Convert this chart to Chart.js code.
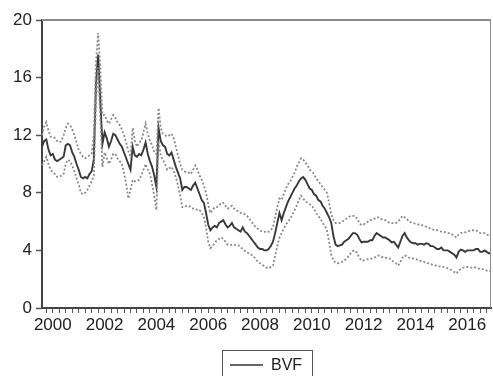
<!DOCTYPE html>
<html>
<head>
<meta charset="utf-8">
<script src="https://cdn.jsdelivr.net/npm/chart.js@4.4.0/dist/chart.umd.min.js"></script>
<style>
  html, body { margin: 0; padding: 0; background: #fff; }
  canvas { display: block; }
</style>
</head>
<body>
<canvas id="myChart" width="493" height="376"></canvas>
<script>
// monthly series 1999M08 - 2016M12
const startYear = 1999, startMonth = 8, endYear = 2016, endMonth = 12;

const bvf = [
  11.2, 11.6, 11.7, 11.0, 10.6,
  10.7, 10.3, 10.2, 10.3, 10.4, 10.5, 11.3, 11.4, 11.3, 10.8, 10.5, 10.0,
  9.6, 9.1, 9.0, 9.1, 9.0, 9.3, 9.5, 10.3, 15.5, 17.6, 14.4, 11.4,
  12.2, 11.8, 11.2, 11.6, 12.1, 12.0, 11.7, 11.4, 11.2, 10.8, 10.4, 10.0,
  9.6, 11.2, 10.6, 10.5, 10.7, 10.6, 11.0, 11.5, 10.7, 10.2, 9.8, 9.2,
  8.4, 12.5, 11.6, 11.3, 11.2, 10.7, 10.6, 10.8, 10.3, 9.8, 9.4, 9.0,
  8.2, 8.4, 8.4, 8.3, 8.2, 8.5, 8.7, 8.3, 7.9, 7.5, 7.3, 6.6,
  5.8, 5.4, 5.6, 5.7, 5.6, 5.9, 6.0, 6.1, 5.8, 5.6, 5.7, 5.9,
  5.6, 5.5, 5.4, 5.3, 5.6, 5.3, 5.2, 5.0, 4.8, 4.6, 4.4, 4.2,
  4.1, 4.1, 4.0, 4.0, 4.1, 4.3, 4.6, 5.2, 5.9, 6.6, 6.1, 6.6,
  7.0, 7.4, 7.7, 8.0, 8.3, 8.5, 8.8, 9.0, 9.1, 8.9, 8.6, 8.3,
  8.2, 7.9, 7.8, 7.5, 7.4, 7.1, 6.9, 6.6, 6.3, 5.9, 5.0, 4.4,
  4.3, 4.35, 4.4, 4.6, 4.7, 4.8, 5.0, 5.2, 5.2, 5.1, 4.8, 4.55,
  4.6, 4.6, 4.6, 4.7, 4.7, 5.0, 5.2, 5.1, 5.0, 4.9, 4.9, 4.8,
  4.7, 4.55, 4.6, 4.4, 4.2, 4.6, 5.0, 5.2, 4.9, 4.7, 4.55, 4.5,
  4.5, 4.4, 4.45, 4.45, 4.4, 4.5, 4.45, 4.3, 4.3, 4.2, 4.1, 4.1,
  4.2, 4.0, 4.0, 4.0, 3.9, 3.8, 3.7, 3.5, 3.9, 4.05, 4.0, 3.9,
  4.0, 4.0, 4.0, 4.0, 4.1, 4.1, 3.9, 3.9, 4.0, 3.9, 3.8, 3.8
];

const upperBand = [
  12.0, 12.6, 12.9, 12.3, 11.9,
  11.9, 11.8, 11.6, 11.5, 11.6, 12.0, 12.5, 12.8, 12.7, 12.4, 12.0, 11.5,
  11.0, 10.7, 10.5, 10.4, 10.5, 10.6, 10.7, 12.0, 17.0, 19.1, 16.7, 13.4,
  13.4, 13.0, 12.8, 13.1, 13.4, 13.2, 12.9, 12.7, 12.4, 12.0, 11.5, 10.9,
  10.5, 12.5, 11.6, 11.2, 11.5, 11.6, 12.2, 12.8, 12.1, 11.6, 11.3, 10.8,
  10.7, 13.9, 12.5, 12.1, 12.0, 11.9, 12.0, 12.1, 11.8, 11.2, 10.6, 10.0,
  9.6, 9.5, 9.4, 9.4, 9.3, 9.6, 9.9, 9.6, 9.2, 8.9, 8.5, 8.0,
  7.2, 6.6, 6.8, 7.0, 7.0, 7.1, 7.3, 7.3, 7.1, 6.9, 7.0, 7.1,
  6.9, 6.8, 6.7, 6.6, 6.6, 6.5, 6.4, 6.2, 6.0, 5.8, 5.6, 5.5,
  5.4, 5.3, 5.3, 5.25, 5.3, 5.4, 5.6, 6.3, 7.0, 7.6, 7.5, 7.9,
  8.3, 8.6, 8.8, 9.1, 9.4, 9.8, 10.1, 10.4, 10.3, 10.1, 9.9, 9.6,
  9.5, 9.3, 9.0, 8.8, 8.6, 8.4, 8.2, 8.0, 7.3, 6.5, 6.1, 5.9,
  5.9, 5.9, 6.0, 6.1, 6.2, 6.3, 6.4, 6.4, 6.4, 6.2, 5.9, 5.75,
  5.8, 5.9, 6.0, 6.1, 6.1, 6.2, 6.3, 6.3, 6.2, 6.1, 6.1, 6.0,
  5.9, 5.9, 5.9, 5.9, 6.0, 6.2, 6.4, 6.3, 6.2, 6.0, 5.95, 5.9,
  5.85, 5.8, 5.8, 5.75, 5.7, 5.65, 5.6, 5.5, 5.45, 5.4, 5.4, 5.35,
  5.3, 5.3, 5.25, 5.2, 5.2, 5.1, 5.0, 4.9, 5.1, 5.2, 5.25, 5.25,
  5.3, 5.35, 5.4, 5.4, 5.4, 5.3, 5.2, 5.2, 5.2, 5.1, 5.05, 5.0
];

const lowerBand = [
  9.9, 10.2, 10.5, 10.0, 9.6,
  9.4, 9.3, 9.1, 9.1, 9.2, 9.3, 10.0, 10.3, 10.2, 9.9, 9.5, 9.0,
  8.6, 8.0, 7.9, 8.0, 8.2, 8.5, 8.8, 9.2, 14.4, 16.7, 13.3, 9.8,
  10.8, 10.4, 10.0, 10.3, 10.7, 10.7, 10.4, 10.2, 10.0, 9.4, 8.6, 7.6,
  8.2, 8.9, 8.8, 8.8, 8.9, 9.2, 9.6, 10.0, 9.6, 9.3, 8.6, 7.8,
  6.8, 11.6, 10.6, 10.3, 10.0, 9.6, 9.7, 9.8, 9.5, 9.1, 8.5, 7.8,
  7.0, 7.0, 7.1, 7.1, 7.0, 6.9, 6.9, 6.8, 6.8, 6.6, 6.3, 5.6,
  4.6, 4.15, 4.3, 4.5, 4.7, 4.8, 4.9, 4.8, 4.6, 4.4, 4.35, 4.4,
  4.4, 4.35, 4.35, 4.2, 4.1, 3.95, 3.85, 3.8, 3.7, 3.6, 3.4, 3.2,
  3.1, 3.0, 2.9, 2.8, 2.75, 2.85, 2.95, 3.6, 4.3, 4.9, 5.2, 5.5,
  5.8, 6.0, 6.2, 6.5, 6.8, 7.1, 7.5, 7.8, 7.6, 7.4, 7.3, 7.2,
  7.1, 6.9, 6.6, 6.4, 6.2, 5.9, 5.7, 5.4, 4.6, 3.7, 3.3, 3.15,
  3.1, 3.15, 3.2, 3.3, 3.4, 3.6, 3.8, 3.95, 4.0, 3.8, 3.5, 3.3,
  3.3, 3.35, 3.4, 3.4, 3.45, 3.5, 3.6, 3.65, 3.6, 3.5, 3.5, 3.45,
  3.45, 3.3, 3.2, 3.1, 2.95, 3.2, 3.5, 3.65, 3.6, 3.5, 3.45, 3.45,
  3.4, 3.35, 3.3, 3.2, 3.2, 3.15, 3.1, 3.05, 3.0, 2.95, 2.95, 2.9,
  2.85, 2.85, 2.8, 2.75, 2.7, 2.6, 2.5, 2.4, 2.6, 2.7, 2.8, 2.8,
  2.85, 2.8, 2.8, 2.85, 2.8, 2.75, 2.7, 2.7, 2.65, 2.6, 2.6, 2.55
];

const yTicks = [0, 4, 8, 12, 16, 20];
const yearLabels = ['2000', '2002', '2004', '2006', '2008', '2010', '2012', '2014', '2016'];

// month labels like 2003M05
let months = [];
for (let y = startYear; y <= endYear; y++) {
    let m0 = (y == startYear) ? startMonth : 1;
    let m1 = (y == endYear) ? endMonth : 12;
    for (let m = m0; m <= m1; m++) {
        months.push(y + 'M' + (m < 10 ? '0' + m : m));
    }
}

function monthOf(i) { return parseInt(months[i].split('M')[1]); }
function yearOf(i) { return months[i].split('M')[0]; }

// рамка графика и легенда
const frameLegend = {
    id: 'frameLegend',
    afterDraw(chart) {
        let ctx = chart.ctx, a = chart.chartArea;
        ctx.save();
        ctx.strokeStyle = '#8c8c8c';
        ctx.lineWidth = 2;
        ctx.beginPath();
        ctx.moveTo(a.left, a.top);
        ctx.lineTo(a.right, a.top);
        ctx.stroke();
        ctx.lineWidth = 1;
        ctx.beginPath();
        ctx.moveTo(a.right - 0.5, a.top);
        ctx.lineTo(a.right - 0.5, a.bottom);
        ctx.stroke();

        ctx.strokeStyle = '#555';
        ctx.strokeRect(222.5, 350.5, 90, 40);
        ctx.strokeStyle = '#333';
        ctx.lineWidth = 1.5;
        ctx.beginPath();
        ctx.moveTo(230, 365);
        ctx.lineTo(263, 365);
        ctx.stroke();
        ctx.fillStyle = '#222';
        ctx.font = '16px "Liberation Sans", Arial, sans-serif';
        ctx.textBaseline = 'middle';
        ctx.fillText(chart.data.datasets[2].label, 271, 366);
        ctx.restore();
    }
};

let ctx = document.getElementById('myChart').getContext('2d');
let chart = new Chart(ctx, {
    type: 'line',
    data: {
        labels: months,
        datasets: [{
            label: 'Upper',
            data: upperBand,
            borderColor: '#8a8a8a',
            borderWidth: 1.8,
            borderDash: [2, 2],
            pointRadius: 0,
            fill: false
        }, {
            label: 'Lower',
            data: lowerBand,
            borderColor: '#8a8a8a',
            borderWidth: 1.8,
            borderDash: [2, 2],
            pointRadius: 0,
            fill: false
        }, {
            label: 'BVF',
            data: bvf,
            borderColor: '#383838',
            borderWidth: 1.9,
            pointRadius: 0,
            fill: false
        }]
    },
    options: {
        responsive: false,
        animation: false,
        devicePixelRatio: 1,
        layout: { padding: { top: 20, right: 1, left: 0, bottom: 0 } },
        plugins: {
            legend: { display: false },
            tooltip: { enabled: false }
        },
        scales: {
            x: {
                type: 'category',
                offset: false,
                afterFit: (s) => { s.height = 68; },
                border: { color: '#444', width: 2 },
                grid: {
                    drawOnChartArea: false,
                    tickLength: 5,
                    tickWidth: 1,
                    tickColor: (c) => ([1, 4, 7, 10].includes(monthOf(c.index)) ? '#555' : 'rgba(0,0,0,0)')
                },
                ticks: {
                    autoSkip: false,
                    maxRotation: 0,
                    padding: 2,
                    color: '#222',
                    font: { family: '"Liberation Sans", Arial, sans-serif', size: 17 },
                    callback: function(v, i) {
                        let y = yearOf(i);
                        return (monthOf(i) == 1 && yearLabels.includes(y)) ? y : '';
                    }
                }
            },
            y: {
                min: 0,
                max: 20,
                afterFit: (s) => { s.width = 42; },
                afterBuildTicks: (s) => { s.ticks = yTicks.map(v => ({ value: v })); },
                border: { color: '#444', width: 2 },
                grid: {
                    drawOnChartArea: false,
                    tickLength: 6,
                    tickColor: '#555',
                    tickWidth: 1.5
                },
                ticks: {
                    padding: 4,
                    color: '#222',
                    font: { family: '"Liberation Sans", Arial, sans-serif', size: 17 }
                }
            }
        }
    },
    plugins: [frameLegend]
});
</script>
</body>
</html>
